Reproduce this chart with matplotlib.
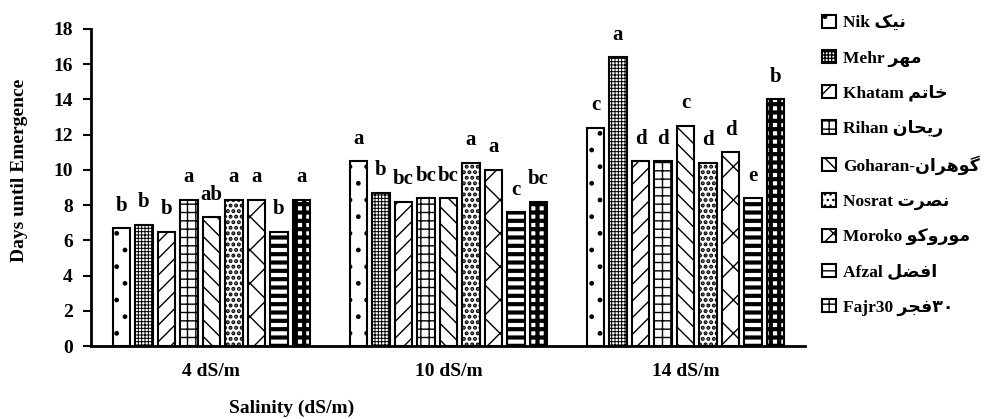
import numpy as np
import matplotlib
matplotlib.use("Agg")
import matplotlib.pyplot as plt

# --- data ---
salinity = ['4 dS/m', '10 dS/m', '14 dS/m']

# Persian names are written in visual (presentation-form) order, matplotlib does no shaping
cultivars = [
    'Nik \uFB8F\uFBFF\uFEE7',
    'Mehr \uFEAE\uFEEC\uFEE3',
    'Khatam \uFEE2\uFE97\uFE8E\uFEA7',
    'Rihan \uFEE5\uFE8E\uFEA4\uFBFE\uFEAD',
    'Goharan-\uFEE5\uFE8D\uFEAE\uFEEB\uFEEE\uFB94',
    'Nosrat \uFE95\uFEAE\uFEBC\uFEE7',
    'Moroko \uFEEE\uFB90\uFEED\uFEAD\uFEEE\uFEE3',
    'Afzal \uFEDE\uFEC0\uFED3\uFE8D',
    'Fajr30 \uFEAE\uFEA0\uFED3\u06F3\u06F0',
]

days_4 = [6.7, 6.9, 6.5, 8.3, 7.3, 8.3, 8.3, 6.5, 8.3]
days_10 = [10.5, 8.7, 8.2, 8.4, 8.4, 10.4, 10.0, 7.6, 8.2]
days_14 = [12.4, 16.4, 10.5, 10.5, 12.5, 10.4, 11.0, 8.4, 14.0]

letters_4 = ['b', 'b', 'b', 'a', 'ab', 'a', 'a', 'b', 'a']
letters_10 = ['a', 'b', 'bc', 'bc', 'bc', 'a', 'a', 'c', 'bc']
letters_14 = ['c', 'a', 'd', 'd', 'c', 'd', 'd', 'e', 'b']

hatches = ['.', '+++++', '//', '++', '\\\\', '...', 'x', '--', '++']
hatch_lw = [1.0, 0.7, 1.0, 1.0, 1.0, 2.0, 1.0, 3.0, 3.0]

plt.rcParams['font.family'] = ['Liberation Serif', 'DejaVu Sans']
plt.rcParams['font.weight'] = 'bold'

values = np.array([days_4, days_10, days_14])   # (salinity, cultivar)
letters = [letters_4, letters_10, letters_14]

fig = plt.figure(figsize=(9.87, 4.19), dpi=100)
ax = fig.add_axes([0.0922, 0.174, 0.7234, 0.757])

x = np.arange(len(salinity))
pitch = 0.0949
width = 0.074
n = len(cultivars)

for i, name in enumerate(cultivars):
    pos = x + (i - (n - 1) / 2) * pitch
    bars = ax.bar(pos, values[:, i], width, facecolor='white', edgecolor='black',
                  linewidth=1.5, hatch=hatches[i], label=name)
    for b in bars:
        b.set_hatch_linewidth(hatch_lw[i])
    for j, b in enumerate(bars):
        ax.annotate(letters[j][i], (b.get_x() + b.get_width() / 2, b.get_height()),
                    xytext=(0, 9), textcoords='offset points', ha='center', va='bottom',
                    fontsize=15, fontweight='bold')

ax.set_xlim(-0.508, 2.504)
ax.set_ylim(0, 18)
ax.set_yticks(np.arange(0, 19, 2))
ax.set_xticks(x)
ax.set_xticklabels(salinity)
ax.tick_params(axis='x', length=0, pad=12, labelsize=14)
ax.tick_params(axis='y', length=6, width=1.5, pad=7, labelsize=14)
for side in ['top', 'right']:
    ax.spines[side].set_visible(False)
for side in ['left', 'bottom']:
    ax.spines[side].set_linewidth(2)

ax.set_xlabel('Salinity (dS/m)', fontsize=14, fontweight='bold')
ax.xaxis.set_label_coords(0.2815, -0.168)
ax.set_ylabel('Days until Emergence', fontsize=14, fontweight='bold')
ax.yaxis.set_label_coords(-0.088, 0.555)

fig.legend(loc='upper left', bbox_to_anchor=(0.833, 0.965), frameon=False,
           fontsize=12.5, handlelength=0.8, handleheight=0.8, handletextpad=0.4,
           labelspacing=1.06, borderpad=0, borderaxespad=0)

fig.savefig('out.png', dpi=100)
